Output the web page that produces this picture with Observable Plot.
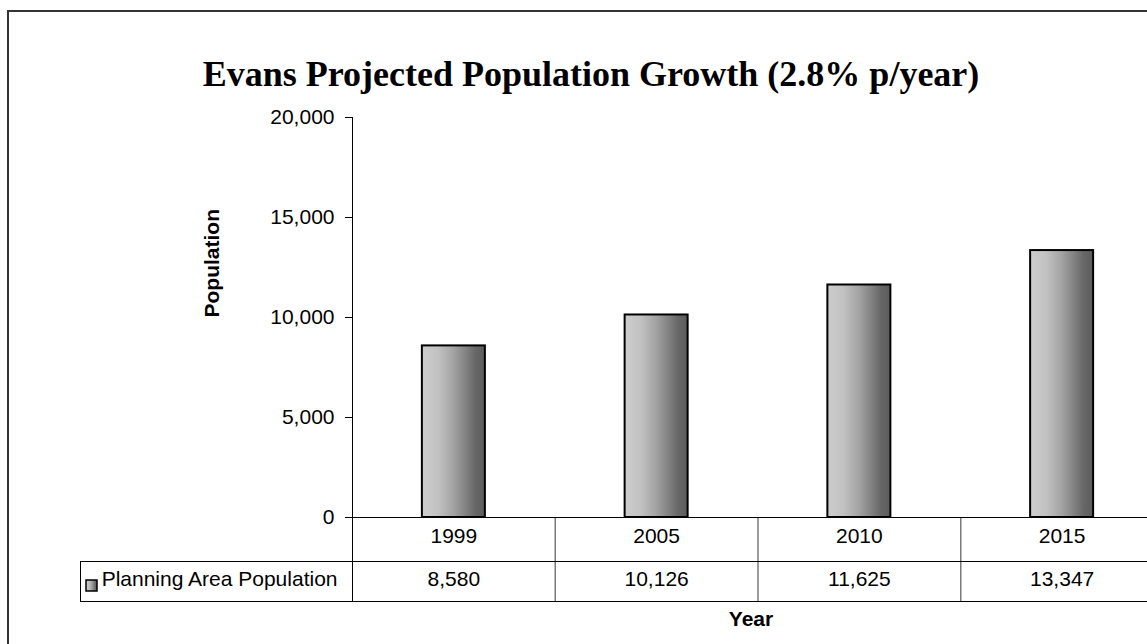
<!DOCTYPE html>
<html>
<head>
<meta charset="utf-8">
<script src="https://cdn.jsdelivr.net/npm/d3@7"></script>
<script src="https://cdn.jsdelivr.net/npm/@observablehq/plot@0.6"></script>
<style>
  html, body { margin: 0; padding: 0; background: #fff; overflow: hidden; }
  #wrap { position: relative; width: 1147px; height: 644px; overflow: hidden; background: #fff; }
  #border { position: absolute; left: 7px; top: 10px; width: 1200px; height: 700px; border-left: 2px solid #333; border-top: 2px solid #333; box-sizing: border-box; pointer-events: none; }
  #chart { position: absolute; left: 0; top: 0; }
</style>
</head>
<body>
<div id="wrap"><div id="chart"></div><div id="border"></div></div>
<script>
// ---- data ----
const years = ["1999", "2005", "2010", "2015"];
const population = [8580, 10126, 11625, 13347];
const yTicks = [0, 5000, 10000, 15000, 20000];
const seriesName = "Planning Area Population";
const title = "Evans Projected Population Growth (2.8% p/year)";
const yLabel = "Population";
const xLabel = "Year";

const rows = years.map((y, i) => ({year: y, value: population[i]}));

// ---- layout ----
const W = 1147, H = 644;
const mL = 352, mT = 117, mB = 127, mR = -16;
const frameW = W - mR - mL;              // 811
const colW = frameW / years.length;      // band width
const pxPerUnit = (H - mB - mT) / 20000;  // y pixels per data unit
const row1 = 44, row2 = 84;               // table row bottoms below axis (px)
const fmt = d3.format(",");
const FONT = "'Liberation Sans', Arial, sans-serif";

const plot = Plot.plot({
  width: W,
  height: H,
  marginLeft: mL,
  marginRight: mR,
  marginTop: mT,
  marginBottom: mB,
  style: {fontFamily: FONT, background: "white", color: "black", overflow: "visible"},
  x: {domain: years, padding: 0, round: false, axis: null},
  y: {domain: [0, 20000], axis: null},
  marks: [
    // y axis
    Plot.axisY({ticks: yTicks, tickFormat: fmt, tickSize: 7, tickPadding: 11, fontSize: 21, label: null, stroke: "black"}),
    // bars
    Plot.barY(rows, {x: "year", y: "value", insetLeft: (colW - 63) / 2, insetRight: (colW - 63) / 2,
      fill: "url(#barGrad)", stroke: "black", strokeWidth: 2}),
    // table column dividers (gray)
    Plot.ruleX(years.slice(1), {x: d => d, dx: -colW / 2, y1: 0, y2: -row2 / pxPerUnit, stroke: "#7a7a7a", strokeWidth: 1.5}),
    // axis line (extends through table)
    Plot.frame({anchor: "left", insetBottom: -row2, stroke: "black", strokeWidth: 1}),
    // x baseline
    Plot.ruleY([0], {stroke: "black", strokeWidth: 1}),
    // table horizontal lines, extending left to the legend cell
    Plot.frame({anchor: "bottom", insetBottom: -row1, insetLeft: -272, stroke: "black", strokeWidth: 1}),
    Plot.frame({anchor: "bottom", insetBottom: -row2, insetLeft: -272, stroke: "black", strokeWidth: 1}),
    // legend cell left edge
    Plot.frame({anchor: "left", insetLeft: -272, insetTop: (H - mB - mT) + row1, insetBottom: -row2, stroke: "black", strokeWidth: 1}),
    // year labels (table row 1)
    Plot.text(years, {x: d => d, frameAnchor: "bottom", dy: 25, text: d => d, fontSize: 21, fill: "black"}),
    // values (table row 2)
    Plot.text(rows, {x: "year", frameAnchor: "bottom", dy: 68, text: d => fmt(d.value), fontSize: 21, fill: "black"}),
    // legend label + swatch
    Plot.text([seriesName], {frameAnchor: "bottom-left", dx: -15, dy: 68, text: d => d, textAnchor: "end", fontSize: 21, fill: "black"}),
    Plot.dot([seriesName], {frameAnchor: "bottom-left", dx: -261, dy: 68, symbol: "square", r: 6.2, fill: "url(#barGrad)", stroke: "black", strokeWidth: 1.5}),
    // title
    Plot.text([title], {frameAnchor: "top", dx: -167, dy: -57, text: d => d, fontSize: 36, fontWeight: "bold",
      fontFamily: "'Liberation Serif', 'Times New Roman', serif", fill: "black"}),
    // y label
    Plot.text([yLabel], {frameAnchor: "left", dx: -140, text: d => d, rotate: -90, fontSize: 21, fontWeight: "bold", fill: "black"}),
    // x label
    Plot.text([xLabel], {frameAnchor: "bottom", dx: -7, dy: 108, text: d => d, fontSize: 21, fontWeight: "bold", fill: "black"})
  ]
});

// gradient definition
const ns = "http://www.w3.org/2000/svg";
const defs = document.createElementNS(ns, "defs");
defs.innerHTML = `<linearGradient id="barGrad" x1="0" y1="0" x2="1" y2="0">
  <stop offset="0" stop-color="#cdcdcd"/>
  <stop offset="0.25" stop-color="#c2c2c2"/>
  <stop offset="0.5" stop-color="#a3a3a3"/>
  <stop offset="0.72" stop-color="#7e7e7e"/>
  <stop offset="0.85" stop-color="#676767"/>
  <stop offset="1" stop-color="#5c5c5c"/>
</linearGradient>`;
plot.insertBefore(defs, plot.firstChild);
document.getElementById("chart").appendChild(plot);
</script>
</body>
</html>
